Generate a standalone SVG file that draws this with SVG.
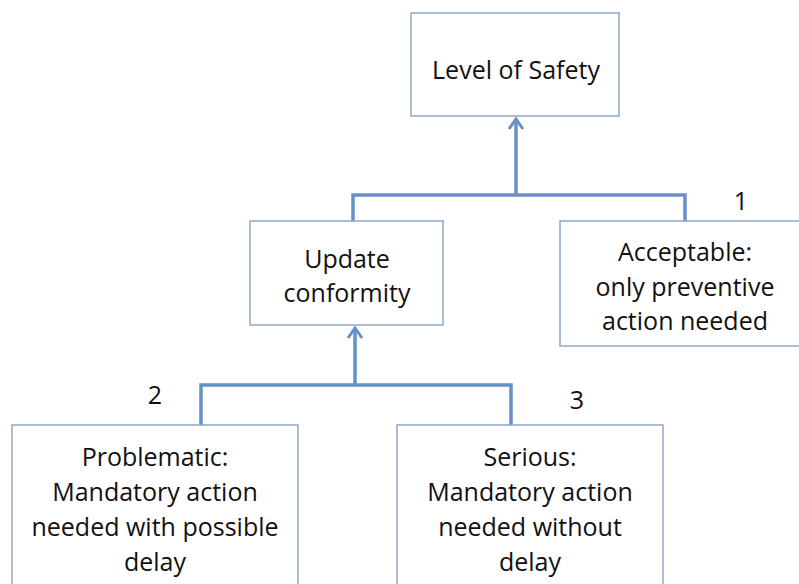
<svg xmlns="http://www.w3.org/2000/svg" width="799" height="584" viewBox="0 0 799 584">
<defs>
<style>
.box{fill:#fff;stroke:#8ea6c9;stroke-width:1.5}
.t{font-family:"Open Sans","Liberation Sans",sans-serif;font-size:25px;fill:#111;text-anchor:middle}
.c{fill:none;stroke:#6590c8;stroke-width:3.5}
</style>
<marker id="ah" markerWidth="14" markerHeight="18" refX="12" refY="9" orient="auto" markerUnits="userSpaceOnUse" viewBox="0 0 14 18">
<path d="M2,2 L12,9 L2,16" fill="none" stroke="#6590c8" stroke-width="3"/>
</marker>
</defs>
<rect width="799" height="584" fill="#fff"/>
<g id="connectors">
<path class="c" d="M516,195 V119" marker-end="url(#ah)"/>
<path class="c" d="M353,221 V195 H685 V221"/>
<path class="c" d="M355,385 V328" marker-end="url(#ah)"/>
<path class="c" d="M201,425 V385 H511 V425"/>
</g>
<g id="n-safety">
<rect class="box" x="411" y="13" width="208" height="103"/>
<text class="t" x="516" y="79">Level of Safety</text>
</g>
<g id="n-update">
<rect class="box" x="250" y="221" width="193" height="104"/>
<text class="t" x="347" y="268">Update</text>
<text class="t" x="347" y="302">conformity</text>
</g>
<g id="n-acceptable">
<rect class="box" x="560" y="221" width="250" height="125"/>
<text class="t" x="685" y="261">Acceptable:</text>
<text class="t" x="685" y="296">only preventive</text>
<text class="t" x="685" y="330">action needed</text>
</g>
<g id="n-problematic">
<rect class="box" x="12" y="425" width="286" height="170"/>
<text class="t" x="155" y="466">Problematic:</text>
<text class="t" x="155" y="501">Mandatory action</text>
<text class="t" x="155" y="536">needed with possible</text>
<text class="t" x="155" y="571">delay</text>
</g>
<g id="n-serious">
<rect class="box" x="397" y="425" width="266" height="170"/>
<text class="t" x="530" y="466">Serious:</text>
<text class="t" x="530" y="501">Mandatory action</text>
<text class="t" x="530" y="536">needed without</text>
<text class="t" x="530" y="571">delay</text>
</g>
<g id="labels">
<text class="t" x="741" y="210">1</text>
<text class="t" x="155" y="404">2</text>
<text class="t" x="577" y="409">3</text>
</g>
</svg>
